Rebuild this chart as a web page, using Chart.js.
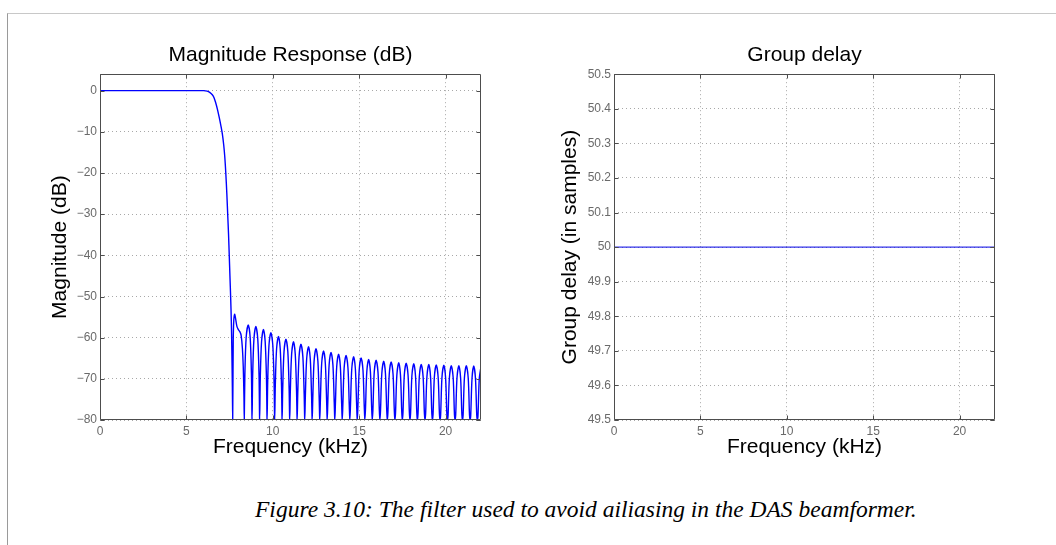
<!DOCTYPE html>
<html>
<head>
<meta charset="utf-8">
<script src="https://cdn.jsdelivr.net/npm/chart.js@4.4.1/dist/chart.umd.min.js"></script>
<style>
  html, body { margin: 0; padding: 0; background: #fff; }
  body { width: 1056px; height: 545px; position: relative; overflow: hidden; }
  #frame { position: absolute; left: 7px; top: 13px; right: 0; bottom: 0;
           border-top: 1px solid #c8c8c8; border-left: 1px solid #9a9a9a; }
  canvas { position: absolute; }
  #magChart { left: 20px; top: 30px; }
  #delayChart { left: 534px; top: 30px; }
  #caption { position: absolute; left: 255px; top: 496px; line-height: 27px; white-space: nowrap;
             font: italic 23.5px "Liberation Serif", "Times New Roman", serif; color: #000; }
</style>
</head>
<body>
<div id="frame"></div>
<canvas id="magChart" width="490" height="440"></canvas>
<canvas id="delayChart" width="490" height="440"></canvas>
<div id="caption">Figure 3.10: The filter used to avoid ailiasing in the DAS beamformer.</div>
<script>
// Frequency axis (kHz), shared by both panels
const freqMax = 22.05;
const freqTicks = [0, 5, 10, 15, 20];

// Magnitude response: passband, transition and the first (odd) sidelobe
const passbandFreq = [0, 6.0, 6.2, 6.35, 6.5, 6.6, 6.7, 6.8, 6.9, 7.0, 7.08, 7.16, 7.22, 7.28, 7.34, 7.39, 7.44, 7.48, 7.52, 7.56, 7.60, 7.63, 7.66, 7.68,
  7.71, 7.74, 7.79, 7.84, 7.92, 8.00, 8.10, 8.17, 8.24, 8.29, 8.33, 8.35];
const passbandDb = [0, 0, -0.1, -0.4, -1.0, -1.7, -3.0, -4.6, -6.5, -8.6, -10.5, -13.2, -16, -20, -25, -30, -35, -40, -45, -50, -56, -63, -72, -80,
  -61, -56, -54.3, -55.2, -57.2, -58.0, -58.6, -59.5, -62.5, -67, -74, -80];

// Stopband sidelobes, one row per lobe (null at the floor, rounded top)
const stopbandFreq = [
  8.385, 8.46, 8.58, 8.69, 8.765, 8.80,
  8.835, 8.91, 9.02, 9.13, 9.205, 9.24,
  9.275, 9.35, 9.46, 9.56, 9.635, 9.67,
  9.705, 9.78, 9.89, 10.00, 10.075, 10.11,
  10.145, 10.22, 10.33, 10.43, 10.505, 10.54,
  10.575, 10.65, 10.76, 10.87, 10.945, 10.98,
  11.015, 11.09, 11.20, 11.30, 11.375, 11.41,
  11.445, 11.52, 11.63, 11.74, 11.815, 11.85,
  11.885, 11.96, 12.07, 12.17, 12.245, 12.28,
  12.315, 12.39, 12.50, 12.61, 12.685, 12.72,
  12.755, 12.83, 12.94, 13.04, 13.115, 13.15,
  13.185, 13.26, 13.37, 13.48, 13.555, 13.59,
  13.625, 13.70, 13.81, 13.91, 13.985, 14.02,
  14.055, 14.13, 14.24, 14.35, 14.425, 14.46,
  14.495, 14.57, 14.68, 14.78, 14.855, 14.89,
  14.925, 15.00, 15.11, 15.22, 15.295, 15.33,
  15.365, 15.44, 15.55, 15.65, 15.725, 15.76,
  15.795, 15.87, 15.98, 16.09, 16.165, 16.20,
  16.235, 16.31, 16.42, 16.52, 16.595, 16.63,
  16.665, 16.74, 16.85, 16.96, 17.035, 17.07,
  17.105, 17.18, 17.29, 17.39, 17.465, 17.50,
  17.535, 17.61, 17.72, 17.83, 17.905, 17.94,
  17.975, 18.05, 18.16, 18.26, 18.335, 18.37,
  18.405, 18.48, 18.59, 18.70, 18.775, 18.81,
  18.845, 18.92, 19.03, 19.13, 19.205, 19.24,
  19.275, 19.35, 19.46, 19.57, 19.645, 19.68,
  19.715, 19.79, 19.90, 20.00, 20.075, 20.11,
  20.145, 20.22, 20.33, 20.44, 20.515, 20.55,
  20.585, 20.66, 20.77, 20.87, 20.945, 20.98,
  21.015, 21.09, 21.20, 21.31, 21.385, 21.42,
  21.455, 21.53, 21.63, 21.73, 21.805, 21.84,
  21.875, 21.95, 22.05
];
const stopbandDb = [
  -68.9, -59.9, -56.9, -59.9, -68.9, -80,
  -69.3, -60.3, -57.3, -60.3, -69.3, -80,
  -70.0, -61.0, -58.0, -61.0, -70.0, -80,
  -70.8, -61.8, -58.8, -61.8, -70.8, -80,
  -71.7, -62.7, -59.7, -62.7, -71.7, -80,
  -72.4, -63.4, -60.4, -63.4, -72.4, -80,
  -73.0, -64.0, -61.0, -64.0, -73.0, -80,
  -73.6, -64.6, -61.6, -64.6, -73.6, -80,
  -74.2, -65.2, -62.2, -65.2, -74.2, -80,
  -74.7, -65.7, -62.7, -65.7, -74.7, -80,
  -75.2, -66.2, -63.2, -66.2, -75.2, -80,
  -75.6, -66.6, -63.6, -66.6, -75.6, -80,
  -76.0, -67.0, -64.0, -67.0, -76.0, -80,
  -76.3, -67.3, -64.3, -67.3, -76.3, -80,
  -76.6, -67.6, -64.6, -67.6, -76.6, -80,
  -76.9, -67.9, -64.9, -67.9, -76.9, -80,
  -77.3, -68.3, -65.3, -68.3, -77.3, -80,
  -77.5, -68.5, -65.5, -68.5, -77.5, -80,
  -77.7, -68.7, -65.7, -68.7, -77.7, -80,
  -77.9, -68.9, -65.9, -68.9, -77.9, -80,
  -78.1, -69.1, -66.1, -69.1, -78.1, -80,
  -78.2, -69.2, -66.2, -69.2, -78.2, -80,
  -78.3, -69.3, -66.3, -69.3, -78.3, -80,
  -78.5, -69.5, -66.5, -69.5, -78.5, -80,
  -78.5, -69.5, -66.5, -69.5, -78.5, -80,
  -78.6, -69.6, -66.6, -69.6, -78.6, -80,
  -78.7, -69.7, -66.7, -69.7, -78.7, -80,
  -78.8, -69.8, -66.8, -69.8, -78.8, -80,
  -78.8, -69.8, -66.8, -69.8, -78.8, -80,
  -78.8, -69.8, -66.8, -69.8, -78.8, -80,
  -78.9, -69.9, -66.9, -69.9, -78.9, -80,
  -79.0, -70.0, -67.0
];
const magTicks = [-80, -70, -60, -50, -40, -30, -20, -10, 0];

// Group delay (samples)
const delayFreq = [0, 22.05];
const delaySamples = [50, 50];
const delayTicks = [49.5, 49.6, 49.7, 49.8, 49.9, 50, 50.1, 50.2, 50.3, 50.4, 50.5];

Chart.defaults.font.family = '"Liberation Sans", Arial, Helvetica, sans-serif';

const boxColor = '#4d4d4d';
const tickColor = '#6a6a6a';
const gridColor = '#a8a8a8';

// MATLAB-like closed box with inward tick marks
const axesBox = {
  id: 'axesBox',
  afterDraw(chart) {
    const { ctx, chartArea: a, scales: { x, y } } = chart;
    const l = Math.round(a.left) + 0.5, r = Math.round(a.right) - 0.5;
    const t = Math.round(a.top) + 0.5, b = Math.round(a.bottom) - 0.5;
    ctx.save();
    ctx.strokeStyle = boxColor;
    ctx.lineWidth = 1;
    ctx.beginPath();
    ctx.rect(l, t, r - l, b - t);
    x.ticks.forEach(tk => {
      const px = Math.round(x.getPixelForValue(tk.value)) + 0.5;
      ctx.moveTo(px, b); ctx.lineTo(px, b - 4);
      ctx.moveTo(px, t); ctx.lineTo(px, t + 4);
    });
    y.ticks.forEach(tk => {
      const py = Math.round(y.getPixelForValue(tk.value)) + 0.5;
      ctx.moveTo(l, py); ctx.lineTo(l + 4, py);
      ctx.moveTo(r, py); ctx.lineTo(r - 4, py);
    });
    ctx.stroke();
    ctx.restore();
  }
};

function drawPanel(canvasId, title, yTitle, freq, values, yMin, yMax, yTicks, yLabel, yTitlePad, color, width, tension) {
  const points = freq.map((f, i) => ({ x: f, y: values[i] }));
  return new Chart(document.getElementById(canvasId), {
    type: 'line',
    data: {
      datasets: [{
        data: points,
        borderColor: color,
        borderWidth: width,
        pointRadius: 0,
        tension: tension,
        fill: false
      }]
    },
    options: {
      responsive: false,
      animation: false,
      events: [],
      layout: { padding: { left: 0, right: 29, top: 0, bottom: 0 } },
      plugins: {
        legend: { display: false },
        tooltip: { enabled: false },
        title: {
          display: true,
          text: title,
          fullSize: false,
          color: '#000',
          font: { size: 21, weight: 'normal' },
          padding: { top: 13, bottom: 6 }
        }
      },
      scales: {
        x: {
          type: 'linear',
          min: 0,
          max: freqMax,
          afterBuildTicks: axis => { axis.ticks = freqTicks.map(v => ({ value: v })); },
          afterFit: axis => { axis.height = 50; },
          ticks: { color: tickColor, font: { size: 12 }, padding: 4, maxRotation: 0, callback: v => String(v) },
          grid: { color: gridColor, lineWidth: 1, drawTicks: false },
          border: { display: false, dash: [1, 3] },
          title: { display: true, text: 'Frequency (kHz)', color: '#000', font: { size: 21 }, padding: { top: 0, bottom: 10 } }
        },
        y: {
          type: 'linear',
          min: yMin,
          max: yMax,
          afterBuildTicks: axis => { axis.ticks = yTicks.map(v => ({ value: v })); },
          afterFit: axis => { axis.width = 80; },
          ticks: { color: tickColor, font: { size: 12 }, padding: 3, callback: yLabel },
          grid: { color: gridColor, lineWidth: 1, drawTicks: false },
          border: { display: false, dash: [1, 3] },
          title: { display: true, text: yTitle, color: '#000', font: { size: 21 }, padding: { top: yTitlePad, bottom: 0 } }
        }
      }
    },
    plugins: [axesBox]
  });
}

drawPanel('magChart',
  'Magnitude Response (dB)',
  'Magnitude (dB)',
  passbandFreq.concat(stopbandFreq),
  passbandDb.concat(stopbandDb),
  -80, 4, magTicks,
  v => (v < 0 ? '\u2212' + (-v) : String(v)),
  28, '#0000ff', 1.4, 0.3);

drawPanel('delayChart',
  'Group delay',
  'Group delay (in samples)',
  delayFreq,
  delaySamples,
  49.5, 50.5, delayTicks,
  v => String(Math.round(v * 10) / 10),
  24, '#0000e6', 1, 0);
</script>
</body>
</html>
